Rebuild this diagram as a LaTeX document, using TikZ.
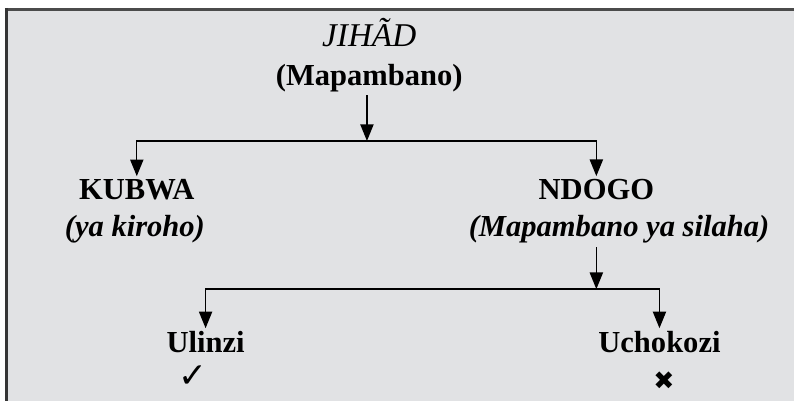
\documentclass[tikz,border=0pt]{standalone}
\usepackage{fontspec}
\setmainfont{Liberation Serif}
\newfontfamily\symbolfont{DejaVu Sans}
\usetikzlibrary{arrows.meta}
\definecolor{panelgray}{RGB}{225,226,228}
\definecolor{framegray}{RGB}{75,75,75}

\begin{document}
\begin{tikzpicture}[
    heading/.style={font=\fontsize{23}{28}\selectfont\bfseries, anchor=base, inner sep=2.5pt},
    subheading/.style={font=\fontsize{23}{28}\selectfont\bfseries\itshape, anchor=base, inner sep=2.5pt},
    verdict/.style={font=\symbolfont\fontsize{26}{28}\selectfont, inner sep=0pt},
    branch/.style={line width=1pt, -{Triangle[length=0.44cm,width=0.35cm]}}
]
    % Panel with its top and left edges
    \useasboundingbox (0,0) rectangle (21.01,-10.61);
    \fill[panelgray] (0.13,-0.21) rectangle (21.01,-10.61);
    \draw[framegray, line width=2.3pt] (0.13,-0.25) -- (21.01,-0.25); % top edge
    \draw[framegray!70!black, line width=2.3pt] (0.17,-0.21) -- (0.17,-10.61); % left edge

    % Top term
    \node[heading, font=\fontsize{25}{28}\selectfont\itshape] (jihad) at (9.77,-1.24) {JIHÃD};
    \node[heading] (mapambano) at (9.77,-2.25) {(Mapambano)};
    \coordinate (split1) at (9.71,-3.73); % first branch point

    % First level
    \node[heading] (kubwa) at (3.62,-5.29) {KUBWA};
    \node[subheading] (kiroho) at (3.57,-6.27) {(ya kiroho)};
    \node[heading] (ndogo) at (15.78,-5.29) {NDOGO};
    \node[subheading] (silaha) at (16.38,-6.27) {(Mapambano ya silaha)};
    \coordinate (split2) at (15.78,-7.65); % second branch point

    % Second level
    \node[heading] (ulinzi) at (5.44,-9.34) {Ulinzi};
    \node[heading] (uchokozi) at (17.45,-9.34) {Uchokozi};
    \node[verdict] (tick) at (5.11,-9.97) {✓};
    \node[verdict, font=\symbolfont\fontsize{19}{21}\selectfont] (cross) at (17.57,-10.08) {✖};

    % Connectors
    \draw[branch] (mapambano.south -| split1) -- (split1);
    \draw[branch] (split1) -| (kubwa.north);
    \draw[branch] (split1) -| (ndogo.north);
    \draw[branch] (silaha.south -| split2) -- (split2);
    \draw[branch] (split2) -| (ulinzi.north);
    \draw[branch] (split2) -| (uchokozi.north);
\end{tikzpicture}
\end{document}
